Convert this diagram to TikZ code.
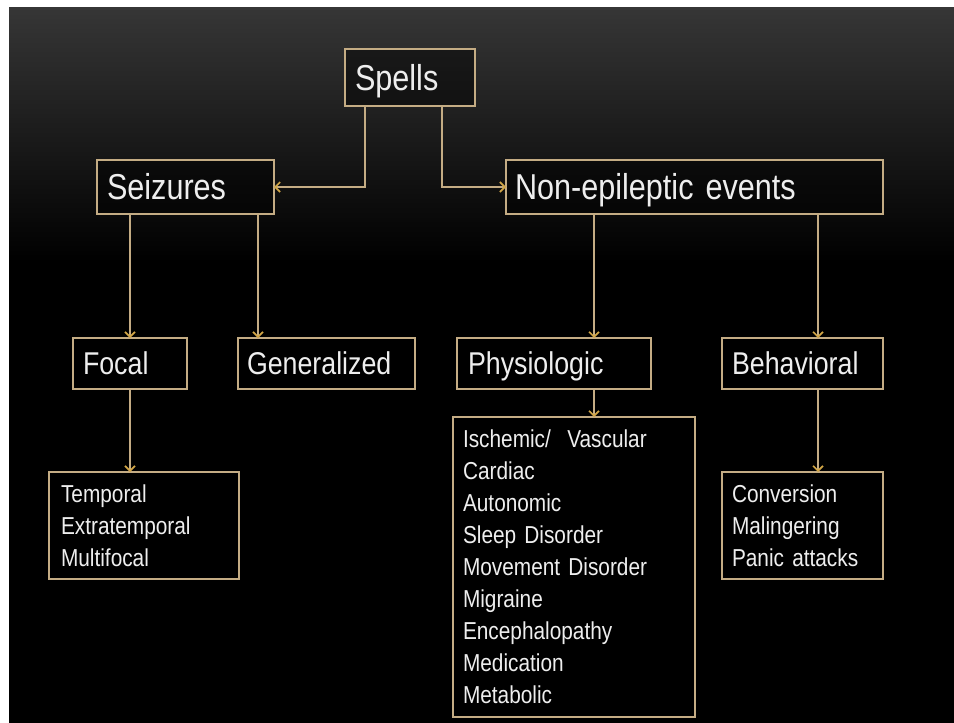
\documentclass[tikz,border=0pt]{standalone}
\usepackage{fontspec}
\setmainfont[FakeStretch=0.85]{Liberation Sans}
\usetikzlibrary{arrows.meta,calc}
\definecolor{tanline}{RGB}{196,172,132}
\definecolor{goldtip}{RGB}{210,166,70}
\definecolor{txtcol}{RGB}{238,238,238}
\definecolor{bgtop}{RGB}{54,54,54}
\begin{document}
\begin{tikzpicture}[x=1pt,y=-1pt,
  boxbase/.style={draw=tanline, line width=1.6pt, fill=black, fill opacity=0.45,
    text opacity=1, draw opacity=1, text=txtcol, inner ysep=0pt, outer sep=0pt, align=left},
  mainbox/.style n args={4}{boxbase, font=\fontsize{36}{40}\selectfont,
    text height=25.8pt, text depth=0pt,
    minimum width=#1, minimum height=#2, inner xsep=#3, text width=#4},
  subbox/.style n args={4}{boxbase, font=\fontsize{31.5}{36}\selectfont,
    text height=22.5pt, text depth=0pt,
    minimum width=#1, minimum height=#2, inner xsep=#3, text width=#4},
  listbox/.style n args={4}{boxbase, font=\fontsize{24.5}{32}\selectfont,
    minimum width=#1, minimum height=#2, inner xsep=#3, text width=#4},
  arr/.style={draw=tanline, line width=1.6pt,
    -{Straight Barb[length=5pt,width=10pt,line width=1.6pt,color=goldtip]}}
]
\useasboundingbox (0,0) rectangle (954,723);
\fill[white] (0,0) rectangle (954,723);
\fill[black] (9,7) rectangle (954,723);
\shade[top color=bgtop, bottom color=black] (9,7) rectangle (954,262);

% main boxes
\node[mainbox={130pt}{57pt}{10pt}{110pt}] (spells) at (410,77.5) {Spells};
\node[mainbox={177pt}{54pt}{10pt}{157pt}] (seizures) at (185.5,187) {Seizures};
\node[mainbox={377pt}{54pt}{9pt}{359pt}] (nonepi) at (694.5,187) {Non-epileptic events};
\node[subbox={114pt}{51pt}{10pt}{94pt}] (focal) at (130,363.5) {Focal};
\node[subbox={177pt}{51pt}{9pt}{159pt}] (general) at (326.5,363.5) {Generalized};
\node[subbox={194pt}{51pt}{11pt}{172pt}] (physio) at (554,363.5) {Physiologic};
\node[subbox={161pt}{51pt}{10pt}{141pt}] (behav) at (802.5,363.5) {Behavioral};

% list boxes
\node[listbox={190pt}{107pt}{12pt}{166pt}] (focallist) at (144,525.5)
  {Temporal\\Extratemporal\\Multifocal};
\node[listbox={242pt}{300pt}{10pt}{222pt}] (physlist) at (574,567)
  {Ischemic/\ \ Vascular\\Cardiac\\Autonomic\\Sleep Disorder\\Movement Disorder\\Migraine\\Encephalopathy\\Medication\\Metabolic};
\node[listbox={161pt}{107pt}{10pt}{141pt}] (behavlist) at (802.5,525.5)
  {Conversion\\Malingering\\Panic attacks};

% connectors
\coordinate (sl) at ([xshift=20pt]spells.south west);
\coordinate (sr) at ([xshift=97pt]spells.south west);
\draw[arr] (sl) |- (seizures.east);
\draw[arr] (sr) |- (nonepi.west);

\coordinate (gx) at ([xshift=20pt]general.north west);
\draw[arr] (focal.north |- seizures.south) -- (focal.north);
\draw[arr] (gx |- seizures.south) -- (gx);

\coordinate (px) at ([xshift=137pt]physio.north west);
\coordinate (bx) at ([xshift=96pt]behav.north west);
\draw[arr] (px |- nonepi.south) -- (px);
\draw[arr] (bx |- nonepi.south) -- (bx);

\draw[arr] (focal.south) -- (focal.south |- focallist.north);
\draw[arr] (px |- physio.south) -- (px |- physlist.north);
\draw[arr] (bx |- behav.south) -- (bx |- behavlist.north);
\end{tikzpicture}
\end{document}
